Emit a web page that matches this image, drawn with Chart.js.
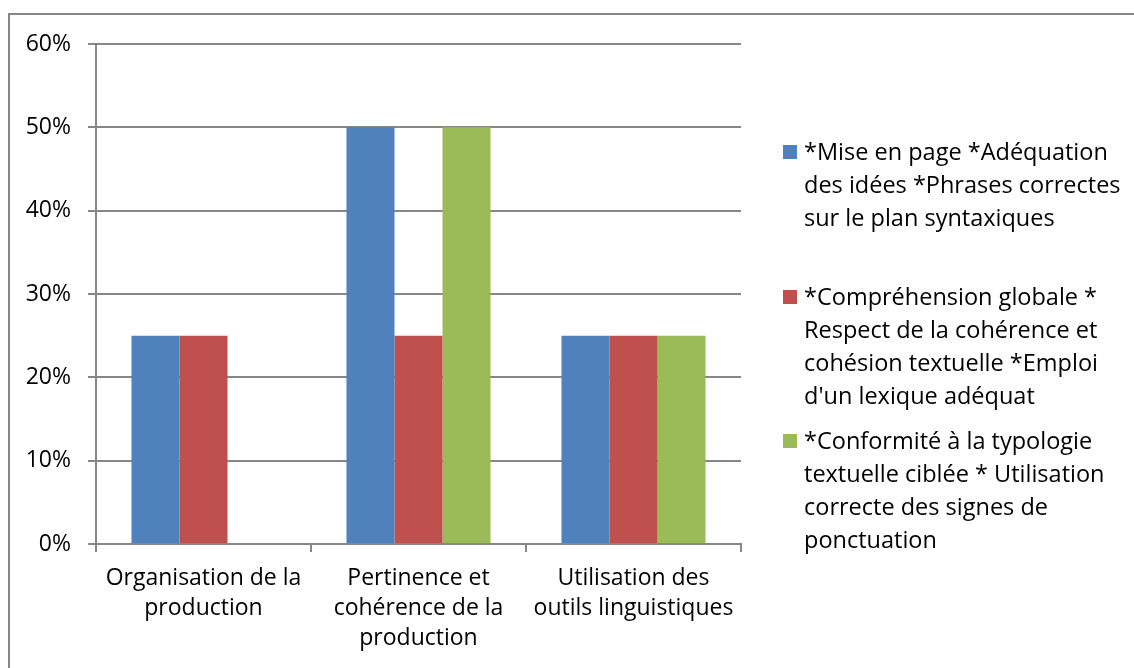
<!DOCTYPE html>
<html>
<head>
<meta charset="utf-8">
<script src="https://cdn.jsdelivr.net/npm/chart.js@4"></script>
<style>
  body { margin: 0; background: #fff; }
  #wrap { position: relative; width: 1134px; height: 668px; overflow: hidden; font-family: "Open Sans", "Liberation Sans", sans-serif; }
  #frame { position: absolute; left: 8px; top: 13px; width: 1200px; height: 700px; border: 2px solid #878787; box-sizing: border-box; }
  canvas { position: absolute; left: 0; top: 0; }
  #legend { position: absolute; left: 783px; top: 0; }
  .item { position: absolute; left: 0; white-space: nowrap; font-size: 23.5px; line-height: 33px; color: #000; }
  .item .box { position: absolute; left: 0; top: 10px; width: 14px; height: 14px; }
  .item .txt { margin-left: 21px; }
</style>
</head>
<body>
<div id="wrap">
  <div id="frame"></div>
  <canvas id="chart" width="1134" height="668"></canvas>
  <div id="legend"></div>
</div>
<script>
var categories = [
    ['Organisation de la', 'production'],
    ['Pertinence et', 'cohérence de la', 'production'],
    ['Utilisation des', 'outils linguistiques']
];
var seriesNames = [
    ['*Mise en page *Adéquation', 'des idées *Phrases correctes', 'sur le plan syntaxiques'],
    ['*Compréhension globale *', 'Respect de la cohérence et', 'cohésion textuelle *Emploi', "d'un lexique adéquat"],
    ['*Conformité à la typologie', 'textuelle ciblée * Utilisation', 'correcte des signes de', 'ponctuation']
];
var series1 = [0.25, 0.50, 0.25];
var series2 = [0.25, 0.25, 0.25];
var series3 = [null, 0.50, 0.25];
var yTicks = [0, 0.1, 0.2, 0.3, 0.4, 0.5, 0.6];

var colors = ['#4F81BD', '#C0504D', '#9BBB59'];
var legendTops = [135, 280, 424];

var font = { family: '"Open Sans", "Liberation Sans", sans-serif', size: 23 };
var grey = '#878787';

var ctx = document.getElementById('chart').getContext('2d');
var chart = new Chart(ctx, {
    type: 'bar',
    data: {
        labels: categories,
        datasets: [series1, series2, series3].map(function(d, i){
            return {
                label: seriesNames[i].join(' '),
                data: d,
                backgroundColor: colors[i],
                borderWidth: 0,
                barPercentage: 1,
                categoryPercentage: 0.67
            };
        })
    },
    options: {
        responsive: false,
        animation: false,
        layout: { padding: { left: 0, top: 44, right: 393, bottom: 0 } },
        plugins: { legend: { display: false }, tooltip: { enabled: false } },
        scales: {
            x: {
                grid: { drawOnChartArea: false, drawTicks: true, tickLength: 8, color: grey, lineWidth: 2 },
                border: { color: grey, width: 2 },
                ticks: { color: '#000', font: Object.assign({ lineHeight: 30 / 23 }, font), padding: 11, maxRotation: 0, autoSkip: false },
                afterFit: function(scale){ scale.height = 668 - 544; }
            },
            y: {
                min: 0,
                max: 0.6,
                afterBuildTicks: function(scale){ scale.ticks = yTicks.map(function(v){ return { value: v }; }); },
                grid: { color: grey, lineWidth: 2, tickLength: 8 },
                border: { color: grey, width: 2 },
                ticks: {
                    color: '#000', font: font, padding: 17,
                    callback: function(value){ return Math.round(value * 100) + '%'; }
                },
                afterFit: function(scale){ scale.width = 96; }
            }
        }
    }
});

var legend = document.getElementById('legend');
seriesNames.forEach(function(lines, i){
    var item = document.createElement('div');
    item.className = 'item';
    item.style.top = legendTops[i] + 'px';
    item.innerHTML = '<span class="box" style="background:' + colors[i] + '"></span><div class="txt">' + lines.join('<br>') + '</div>';
    legend.appendChild(item);
});
</script>
</body>
</html>
